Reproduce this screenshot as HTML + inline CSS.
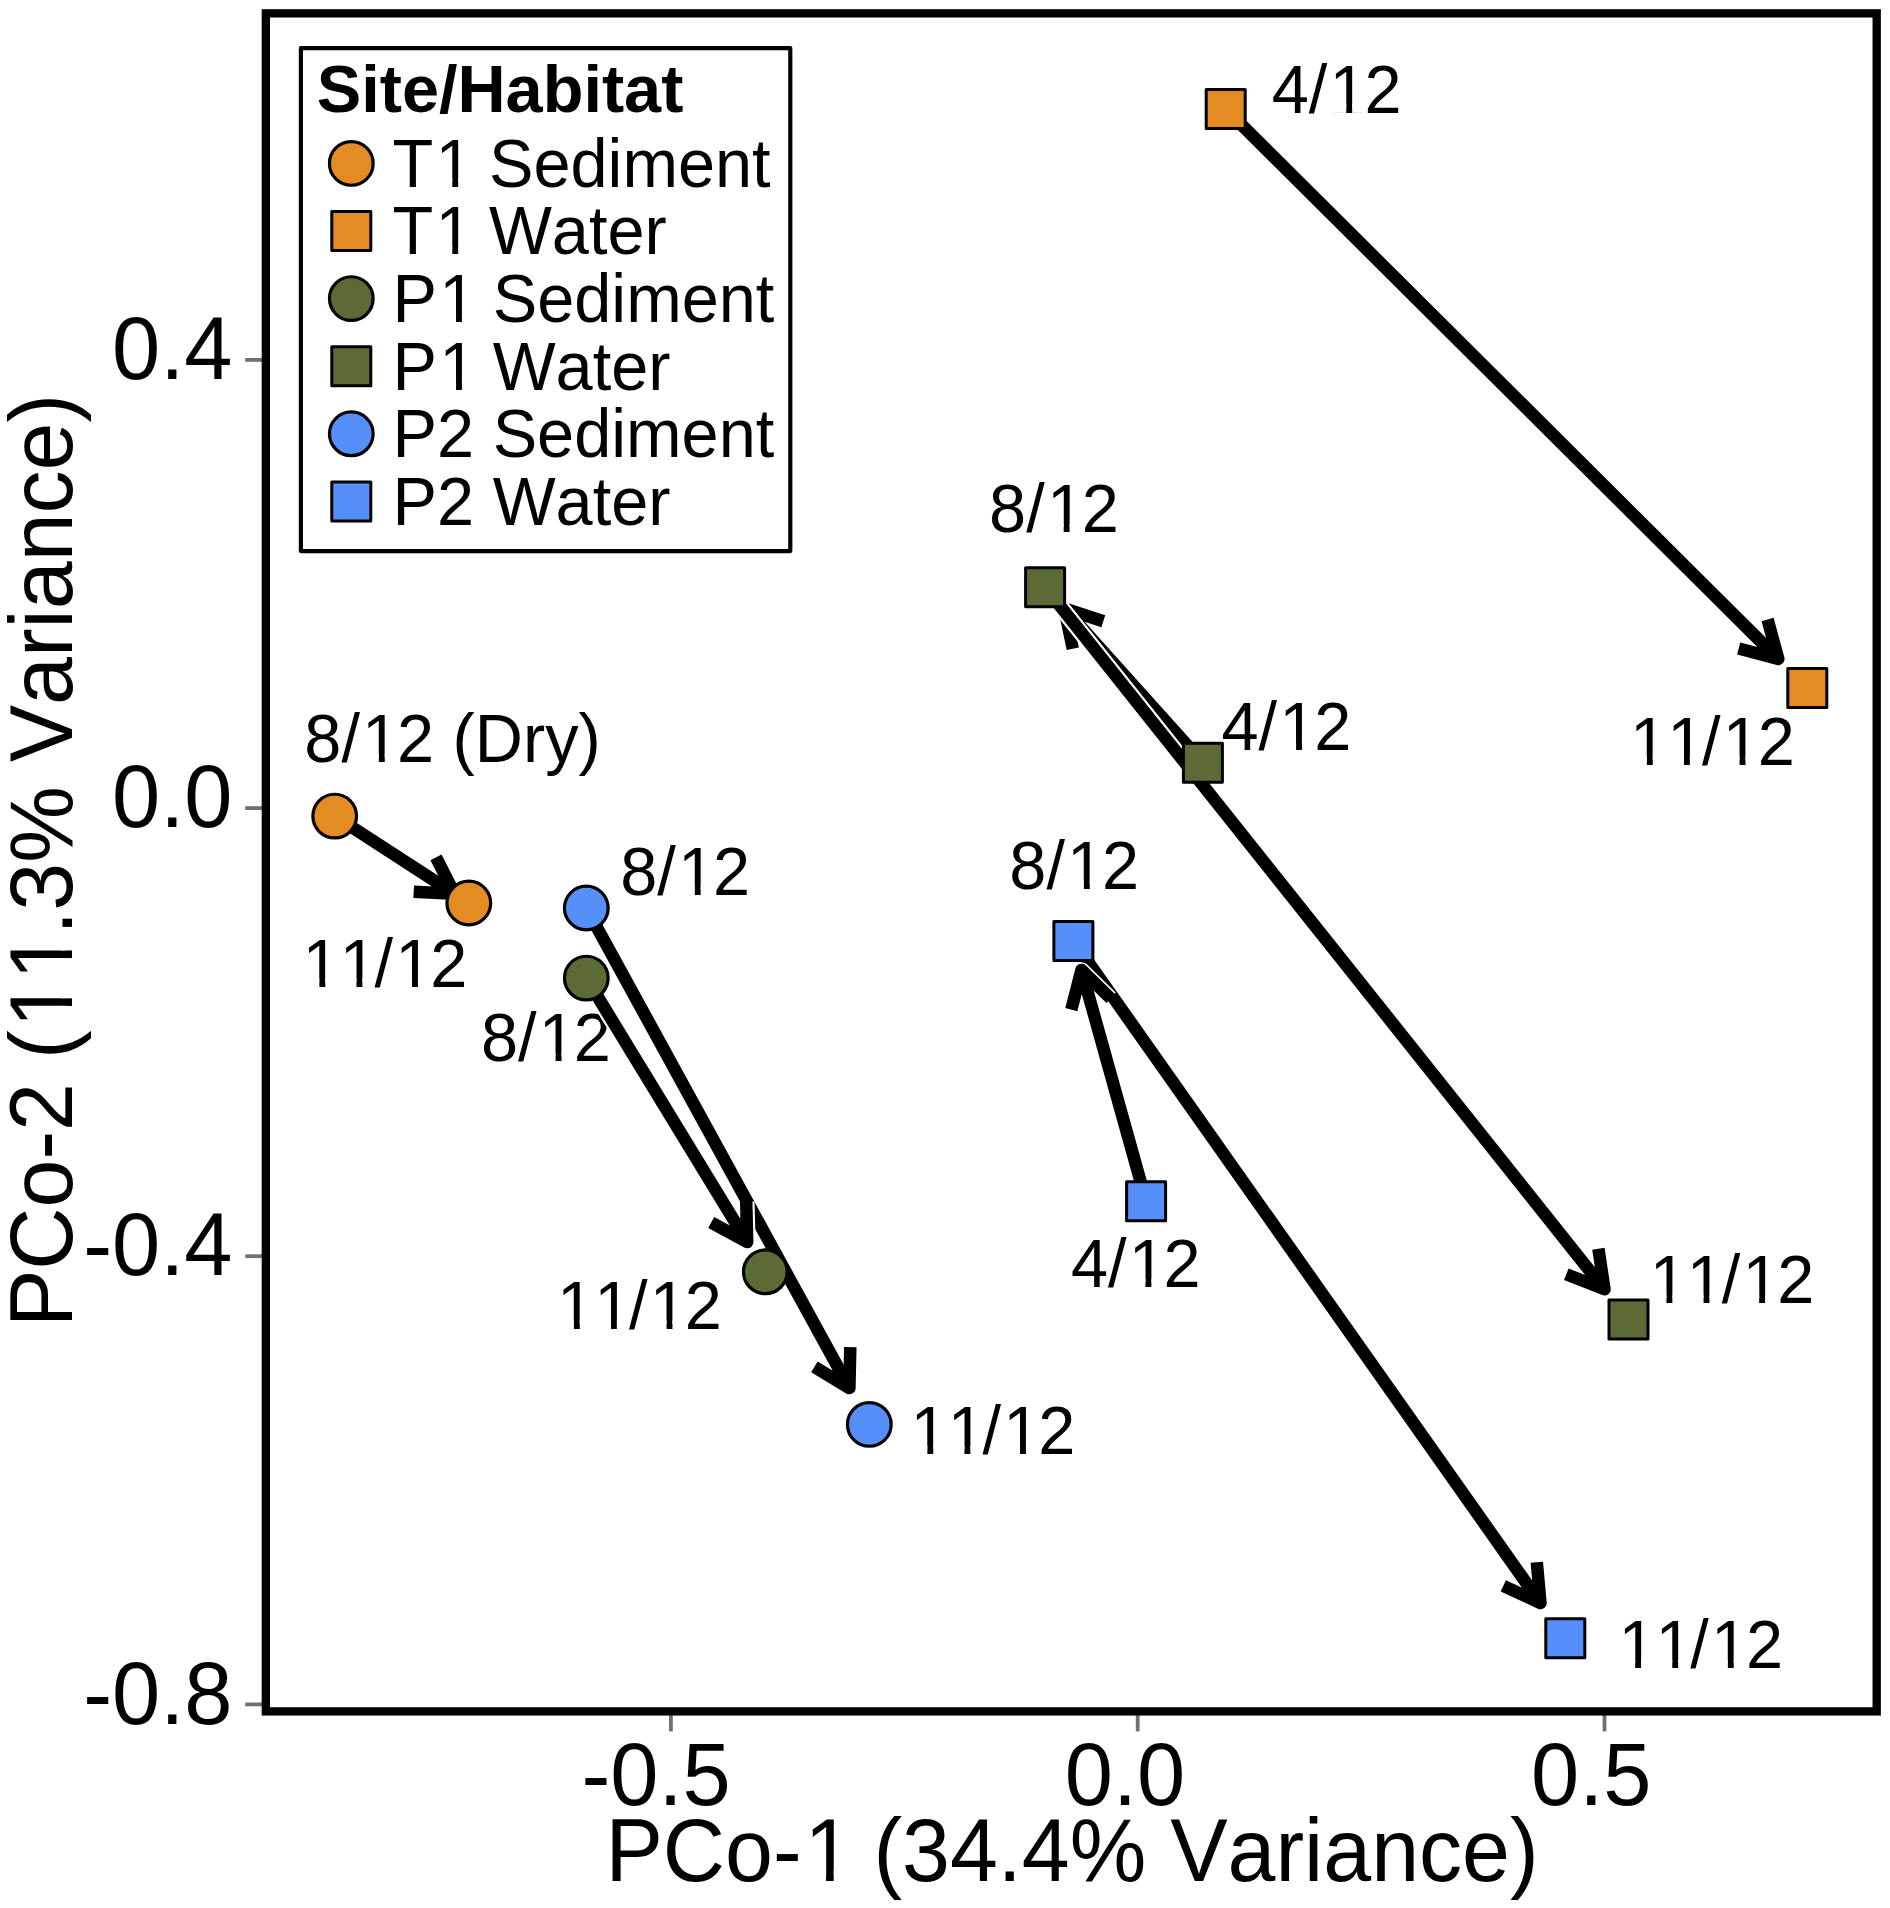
<!DOCTYPE html>
<html lang="en"><head><meta charset="utf-8"><title>PCoA ordination by Site/Habitat</title>
<style>
html,body{margin:0;padding:0;background:#fff}
svg{display:block}
text{font-family:"Liberation Sans",Arial,Helvetica,sans-serif;fill:#000;font-kerning:none}
text.b{font-weight:bold}
</style></head><body>
<svg width="1890" height="1908" viewBox="0 0 1890 1908">
<rect width="1890" height="1908" fill="#fff"/>
<g id="point-labels">
<text transform="translate(1271.7 112.5) translate(0.00 0) scale(1 1.04)" font-size="66.67" dx="0 0 2.21 -2.21">4/12</text><g fill="#fff" transform="translate(1271.7 112.5) translate(0.00 0) scale(0.032554 -0.033856)"><rect x="1886" y="-12" width="405" height="250"/><rect x="2472" y="-12" width="372" height="250"/></g>
<text transform="translate(1627.9 764.9) translate(0.00 0) scale(1 1.04)" font-size="66.67" dx="2.21 0 -2.21 2.21 -2.21">11/12</text><g fill="#fff" transform="translate(1627.9 764.9) translate(0.00 0) scale(0.032554 -0.033856)"><rect x="178" y="-12" width="405" height="250"/><rect x="764" y="-12" width="372" height="250"/><rect x="1317" y="-12" width="405" height="250"/><rect x="1903" y="-12" width="372" height="250"/><rect x="3025" y="-12" width="405" height="250"/><rect x="3611" y="-12" width="372" height="250"/></g>
<text transform="translate(989.1 532.0) translate(0.00 0) scale(1 1.04)" font-size="66.67" dx="0 0 2.21 -2.21">8/12</text><g fill="#fff" transform="translate(989.1 532.0) translate(0.00 0) scale(0.032554 -0.033856)"><rect x="1886" y="-12" width="405" height="250"/><rect x="2472" y="-12" width="372" height="250"/></g>
<text transform="translate(1221.5 750.3) translate(0.00 0) scale(1 1.04)" font-size="66.67" dx="0 0 2.21 -2.21">4/12</text><g fill="#fff" transform="translate(1221.5 750.3) translate(0.00 0) scale(0.032554 -0.033856)"><rect x="1886" y="-12" width="405" height="250"/><rect x="2472" y="-12" width="372" height="250"/></g>
<text transform="translate(1647.5 1303.2) translate(0.00 0) scale(1 1.04)" font-size="66.67" dx="2.21 0 -2.21 2.21 -2.21">11/12</text><g fill="#fff" transform="translate(1647.5 1303.2) translate(0.00 0) scale(0.032554 -0.033856)"><rect x="178" y="-12" width="405" height="250"/><rect x="764" y="-12" width="372" height="250"/><rect x="1317" y="-12" width="405" height="250"/><rect x="1903" y="-12" width="372" height="250"/><rect x="3025" y="-12" width="405" height="250"/><rect x="3611" y="-12" width="372" height="250"/></g>
<text transform="translate(304.3 762.1) translate(0.00 0) scale(1 1.04)" font-size="66.67" dx="0 0 2.21 -2.21 0 0 0 0 0 0">8/12 (Dry)</text><g fill="#fff" transform="translate(304.3 762.1) translate(0.00 0) scale(0.032554 -0.033856)"><rect x="1886" y="-12" width="405" height="250"/><rect x="2472" y="-12" width="372" height="250"/></g>
<text transform="translate(300.4 987.2) translate(0.00 0) scale(1 1.04)" font-size="66.67" dx="2.21 0 -2.21 2.21 -2.21">11/12</text><g fill="#fff" transform="translate(300.4 987.2) translate(0.00 0) scale(0.032554 -0.033856)"><rect x="178" y="-12" width="405" height="250"/><rect x="764" y="-12" width="372" height="250"/><rect x="1317" y="-12" width="405" height="250"/><rect x="1903" y="-12" width="372" height="250"/><rect x="3025" y="-12" width="405" height="250"/><rect x="3611" y="-12" width="372" height="250"/></g>
<text transform="translate(620.2 894.7) translate(0.00 0) scale(1 1.04)" font-size="66.67" dx="0 0 2.21 -2.21">8/12</text><g fill="#fff" transform="translate(620.2 894.7) translate(0.00 0) scale(0.032554 -0.033856)"><rect x="1886" y="-12" width="405" height="250"/><rect x="2472" y="-12" width="372" height="250"/></g>
<text transform="translate(481.0 1061.4) translate(0.00 0) scale(1 1.04)" font-size="66.67" dx="0 0 2.21 -2.21">8/12</text><g fill="#fff" transform="translate(481.0 1061.4) translate(0.00 0) scale(0.032554 -0.033856)"><rect x="1886" y="-12" width="405" height="250"/><rect x="2472" y="-12" width="372" height="250"/></g>
<text transform="translate(554.9 1328.7) translate(0.00 0) scale(1 1.04)" font-size="66.67" dx="2.21 0 -2.21 2.21 -2.21">11/12</text><g fill="#fff" transform="translate(554.9 1328.7) translate(0.00 0) scale(0.032554 -0.033856)"><rect x="178" y="-12" width="405" height="250"/><rect x="764" y="-12" width="372" height="250"/><rect x="1317" y="-12" width="405" height="250"/><rect x="1903" y="-12" width="372" height="250"/><rect x="3025" y="-12" width="405" height="250"/><rect x="3611" y="-12" width="372" height="250"/></g>
<text transform="translate(908.4 1454.0) translate(0.00 0) scale(1 1.04)" font-size="66.67" dx="2.21 0 -2.21 2.21 -2.21">11/12</text><g fill="#fff" transform="translate(908.4 1454.0) translate(0.00 0) scale(0.032554 -0.033856)"><rect x="178" y="-12" width="405" height="250"/><rect x="764" y="-12" width="372" height="250"/><rect x="1317" y="-12" width="405" height="250"/><rect x="1903" y="-12" width="372" height="250"/><rect x="3025" y="-12" width="405" height="250"/><rect x="3611" y="-12" width="372" height="250"/></g>
<text transform="translate(1009.3 889.4) translate(0.00 0) scale(1 1.04)" font-size="66.67" dx="0 0 2.21 -2.21">8/12</text><g fill="#fff" transform="translate(1009.3 889.4) translate(0.00 0) scale(0.032554 -0.033856)"><rect x="1886" y="-12" width="405" height="250"/><rect x="2472" y="-12" width="372" height="250"/></g>
<text transform="translate(1070.9 1287.2) translate(0.00 0) scale(1 1.04)" font-size="66.67" dx="0 0 2.21 -2.21">4/12</text><g fill="#fff" transform="translate(1070.9 1287.2) translate(0.00 0) scale(0.032554 -0.033856)"><rect x="1886" y="-12" width="405" height="250"/><rect x="2472" y="-12" width="372" height="250"/></g>
<text transform="translate(1616.2 1668.0) translate(0.00 0) scale(1 1.04)" font-size="66.67" dx="2.21 0 -2.21 2.21 -2.21">11/12</text><g fill="#fff" transform="translate(1616.2 1668.0) translate(0.00 0) scale(0.032554 -0.033856)"><rect x="178" y="-12" width="405" height="250"/><rect x="764" y="-12" width="372" height="250"/><rect x="1317" y="-12" width="405" height="250"/><rect x="1903" y="-12" width="372" height="250"/><rect x="3025" y="-12" width="405" height="250"/><rect x="3611" y="-12" width="372" height="250"/></g>
</g>
<g id="arrows" fill="none" stroke="#000" stroke-width="12.5" stroke-linejoin="round" stroke-linecap="butt">
<path d="M1225.7 109.0L1778.3 659.0M1767.6 619.5L1778.3 659.0L1738.7 648.5"/>
<path d="M1202.9 762.7L1064.3 608.5M1072.8 648.7L1064.3 608.5L1103.3 621.2"/>
<path d="M1045.1 587.2L1604.5 1289.3M1598.5 1249.4L1604.5 1289.3L1567.0 1274.6" stroke="#fff" stroke-width="16.9"/>
<path d="M1045.1 587.2L1604.5 1289.3M1598.4 1248.7L1604.5 1289.3L1566.3 1274.3"/>
<path d="M334.7 816.1L454.6 893.8M436.0 857.3L454.6 893.8L413.7 891.7"/>
<path d="M586.3 908.0L849.4 1388.1M850.3 1347.1L849.4 1388.1L814.4 1366.8"/>
<path d="M586.3 978.1L747.2 1242.1M746.2 1201.8L747.2 1242.1L711.8 1222.8" stroke="#fff" stroke-width="16.7"/>
<path d="M586.3 978.1L747.2 1242.1M746.2 1201.1L747.2 1242.1L711.2 1222.4"/>
<path d="M1073.4 941.0L1540.5 1603.1M1536.8 1562.2L1540.5 1603.1L1503.3 1585.9"/>
<path d="M1146.1 1201.3L1081.5 969.9M1071.5 1008.9L1081.5 969.9L1110.3 998.1" stroke="#fff" stroke-width="15.5"/>
<path d="M1146.1 1201.3L1081.5 969.9M1071.3 1009.6L1081.5 969.9L1110.8 998.6"/>
</g>
<g id="points">
<rect x="1206.20" y="89.50" width="39.0" height="39.0" fill="#E58B24" stroke="#000" stroke-width="3.0" stroke-linejoin="round"/>
<rect x="1787.80" y="668.40" width="39.0" height="39.0" fill="#E58B24" stroke="#000" stroke-width="3.0" stroke-linejoin="round"/>
<rect x="1025.60" y="567.70" width="39.0" height="39.0" fill="#5C6B35" stroke="#000" stroke-width="3.0" stroke-linejoin="round"/>
<rect x="1183.40" y="743.20" width="39.0" height="39.0" fill="#5C6B35" stroke="#000" stroke-width="3.0" stroke-linejoin="round"/>
<rect x="1609.00" y="1299.90" width="39.0" height="39.0" fill="#5C6B35" stroke="#000" stroke-width="3.0" stroke-linejoin="round"/>
<circle cx="334.70" cy="816.10" r="21.85" fill="#E58B24" stroke="#000" stroke-width="3.2"/>
<circle cx="468.80" cy="903.00" r="21.85" fill="#E58B24" stroke="#000" stroke-width="3.2"/>
<circle cx="586.30" cy="908.00" r="21.85" fill="#568FFA" stroke="#000" stroke-width="3.2"/>
<circle cx="586.30" cy="978.10" r="21.85" fill="#5C6B35" stroke="#000" stroke-width="3.2"/>
<circle cx="765.30" cy="1271.80" r="21.85" fill="#5C6B35" stroke="#000" stroke-width="3.2"/>
<circle cx="869.30" cy="1424.40" r="21.85" fill="#568FFA" stroke="#000" stroke-width="3.2"/>
<rect x="1053.90" y="921.50" width="39.0" height="39.0" fill="#568FFA" stroke="#000" stroke-width="3.0" stroke-linejoin="round"/>
<rect x="1126.60" y="1181.80" width="39.0" height="39.0" fill="#568FFA" stroke="#000" stroke-width="3.0" stroke-linejoin="round"/>
<rect x="1545.80" y="1618.70" width="39.0" height="39.0" fill="#568FFA" stroke="#000" stroke-width="3.0" stroke-linejoin="round"/>
</g>
<g id="legend">
<rect x="300.9" y="48.2" width="489.4" height="502.9" fill="#fff" stroke="#000" stroke-width="4.17" stroke-linejoin="round"/>
<text transform="translate(316.7 111.7) translate(0.00 0) scale(1 1.0)" class="b" font-size="66.67">Site/Habitat</text>
<circle cx="351.30" cy="163.40" r="21.85" fill="#E58B24" stroke="#000" stroke-width="3.2"/>
<text transform="translate(392.6 186.8) translate(0.00 0) scale(1 1.02)" font-size="66.67" dx="0 2.21 -2.21 0 0 0 0 0 0 0 0">T1 Sediment</text><g fill="#fff" transform="translate(392.6 186.8) translate(0.00 0) scale(0.032554 -0.033205)"><rect x="1429" y="-12" width="405" height="250"/><rect x="2015" y="-12" width="372" height="250"/></g>
<rect x="331.80" y="211.50" width="39.0" height="39.0" fill="#E58B24" stroke="#000" stroke-width="3.0" stroke-linejoin="round"/>
<text transform="translate(392.6 254.4) translate(0.00 0) scale(1 1.02)" font-size="66.67" dx="0 2.21 -2.21 0 0 0 0 0">T1 Water</text><g fill="#fff" transform="translate(392.6 254.4) translate(0.00 0) scale(0.032554 -0.033205)"><rect x="1429" y="-12" width="405" height="250"/><rect x="2015" y="-12" width="372" height="250"/></g>
<circle cx="351.30" cy="298.60" r="21.85" fill="#5C6B35" stroke="#000" stroke-width="3.2"/>
<text transform="translate(392.6 322.0) translate(0.00 0) scale(1 1.02)" font-size="66.67" dx="0 2.21 -2.21 0 0 0 0 0 0 0 0">P1 Sediment</text><g fill="#fff" transform="translate(392.6 322.0) translate(0.00 0) scale(0.032554 -0.033205)"><rect x="1544" y="-12" width="405" height="250"/><rect x="2130" y="-12" width="372" height="250"/></g>
<rect x="331.80" y="346.70" width="39.0" height="39.0" fill="#5C6B35" stroke="#000" stroke-width="3.0" stroke-linejoin="round"/>
<text transform="translate(392.6 389.6) translate(0.00 0) scale(1 1.02)" font-size="66.67" dx="0 2.21 -2.21 0 0 0 0 0">P1 Water</text><g fill="#fff" transform="translate(392.6 389.6) translate(0.00 0) scale(0.032554 -0.033205)"><rect x="1544" y="-12" width="405" height="250"/><rect x="2130" y="-12" width="372" height="250"/></g>
<circle cx="351.30" cy="433.80" r="21.85" fill="#568FFA" stroke="#000" stroke-width="3.2"/>
<text transform="translate(392.6 457.2) translate(0.00 0) scale(1 1.02)" font-size="66.67">P2 Sediment</text>
<rect x="331.80" y="481.90" width="39.0" height="39.0" fill="#568FFA" stroke="#000" stroke-width="3.0" stroke-linejoin="round"/>
<text transform="translate(392.6 524.8) translate(0.00 0) scale(1 1.02)" font-size="66.67">P2 Water</text>
</g>
<g id="axes">
<g stroke="#707070" stroke-width="3.8">
<path d="M245.2 359.9H262"/>
<path d="M245.2 808.1H262"/>
<path d="M245.2 1256.2H262"/>
<path d="M245.2 1704.4H262"/>
<path d="M670.9 1715V1731.4"/>
<path d="M1137.7 1715V1731.4"/>
<path d="M1604.5 1715V1731.4"/>
</g>
<rect x="265.85" y="13.35" width="1610.85" height="1698.05" fill="none" stroke="#000" stroke-width="8.33"/>
<text transform="translate(232.4 378.8) translate(-120.39 0) scale(1 1.03)" font-size="86.6">0.4</text>
<text transform="translate(232.4 827.0) translate(-120.39 0) scale(1 1.03)" font-size="86.6">0.0</text>
<text transform="translate(232.4 1275.1) translate(-149.22 0) scale(1 1.03)" font-size="86.6">-0.4</text>
<text transform="translate(232.4 1723.6) translate(-149.22 0) scale(1 1.03)" font-size="86.6">-0.8</text>
<text transform="translate(656.0 1805.1) translate(-74.61 0) scale(1 1.03)" font-size="86.6">-0.5</text>
<text transform="translate(1125.0 1805.1) translate(-60.19 0) scale(1 1.03)" font-size="86.6">0.0</text>
<text transform="translate(1591.3 1805.1) translate(-60.19 0) scale(1 1.03)" font-size="86.6">0.5</text>
<text transform="translate(1072 1880.6) translate(-466.59 0) scale(1 1.03)" font-size="86.1" dx="0 0 0 0 2.86 -2.86 0 0 0 0 0 0 0 0 0 0 0 0 0 0 0 0">PCo-1 (34.4% Variance)</text><g fill="#fff" transform="translate(1072 1880.6) translate(-466.59 0) scale(0.042041 -0.043302)"><rect x="4844" y="-12" width="405" height="250"/><rect x="5430" y="-12" width="372" height="250"/></g>
<text transform="translate(72.2 860.5) rotate(-90) translate(-466.59 0) scale(1 1.03)" font-size="86.1" dx="0 0 0 0 0 0 0 2.86 0 -2.86 0 0 0 0 0 0 0 0 0 0 0 0">PCo-2 (11.3% Variance)</text><g fill="#fff" transform="translate(72.2 860.5) rotate(-90) translate(-466.59 0) scale(0.042041 -0.043302)"><rect x="7234" y="-12" width="405" height="250"/><rect x="7820" y="-12" width="372" height="250"/><rect x="8373" y="-12" width="405" height="250"/><rect x="8959" y="-12" width="372" height="250"/></g>
</g>
</svg>
</body></html>
